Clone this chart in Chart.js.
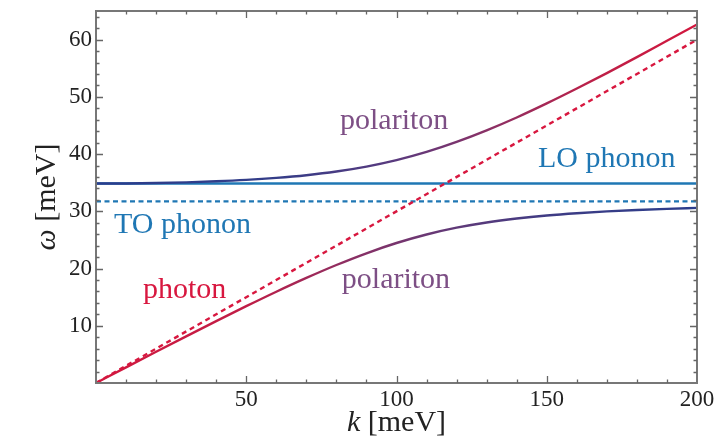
<!DOCTYPE html>
<html>
<head>
<meta charset="utf-8">
<script src="https://cdn.jsdelivr.net/npm/chart.js@4/dist/chart.umd.min.js"></script>
<style>
  html, body { margin: 0; padding: 0; background: #fff; }
  #wrap { width: 719px; height: 442px; position: relative; }
</style>
</head>
<body>
<div id="wrap"><canvas id="c" width="719" height="442"></canvas></div>
<script>
// ---- data ----
const kGrid = [0,10,20,30,40,50,60,70,80,90,100,110,120,130,140,150,160,170,180,190,200];
const upperPolariton = [34.85,34.87,34.94,35.06,35.24,35.49,35.84,36.31,36.95,37.81,38.94,40.37,42.12,44.14,46.39,48.85,51.45,54.15,56.95,59.8,62.65];
const lowerPolariton = [0,2.73,5.45,8.15,10.81,13.42,15.95,18.36,20.62,22.67,24.46,25.95,27.14,28.05,28.74,29.27,29.67,29.98,30.23,30.43,30.6];
const kEnds = [0,200];
const photonLine = [0,60];
const loPhonon = [34.85,34.85];
const toPhonon = [31.75,31.75];
const xTickLabels = [50,100,150,200];
const yTickLabels = [10,20,30,40,50,60];

const BLUE = '#1f77b4';
const RED = '#d8173f';
const PURPLE = '#7d4f85';
const SERIF = '"Liberation Serif", "DejaVu Serif", serif';

function pts(xs, ys){ return xs.map((x,i)=>({x:x, y:ys[i]})); }

function grad(chart, stops){
  const a = chart.chartArea;
  if (!a) return stops[0][1];
  const g = chart.ctx.createLinearGradient(a.left,0,a.right,0);
  stops.forEach(s=>g.addColorStop(s[0], s[1]));
  return g;
}
const upperStops = [[0,'#2a3d8c'],[0.3,'#343d88'],[0.5,'#5a3a7e'],[0.65,'#8a3166'],[0.82,'#bb2048'],[1,'#d3173e']];
const lowerStops = [[0,'#d3173e'],[0.25,'#c01d46'],[0.42,'#8c2f63'],[0.55,'#6a3874'],[0.75,'#3f3c84'],[1,'#2a3d8c']];

const labels = [
  {text:'polariton', x:81.2, y:44.3, color:PURPLE},
  {text:'LO phonon', x:147.1, y:37.75, color:BLUE},
  {text:'TO phonon', x:6.0, y:26.2, color:BLUE},
  {text:'photon', x:15.6, y:14.8, color:RED},
  {text:'polariton', x:81.8, y:16.6, color:PURPLE}
];

const framePlugin = {
  id:'frame',
  afterDatasetsDraw(chart){
    const {ctx, chartArea:a, scales:{x,y}} = chart;
    ctx.save();
    // annotations
    ctx.font = '30px ' + SERIF;
    ctx.textBaseline = 'alphabetic';
    ctx.textAlign = 'left';
    labels.forEach(l=>{
      ctx.fillStyle = l.color;
      ctx.fillText(l.text, x.getPixelForValue(l.x), y.getPixelForValue(l.y));
    });
    // frame
    ctx.strokeStyle = '#777';
    ctx.lineWidth = 2;
    ctx.strokeRect(a.left, a.top, a.right-a.left, a.bottom-a.top);
    // ticks inside
    ctx.strokeStyle = '#666';
    ctx.lineWidth = 1.3;
    ctx.beginPath();
    for (let v=10; v<200; v+=10){
      const px = Math.round(x.getPixelForValue(v))+0.5;
      const L = (v%50===0)?7:3.5;
      ctx.moveTo(px,a.bottom); ctx.lineTo(px,a.bottom-L);
      ctx.moveTo(px,a.top); ctx.lineTo(px,a.top+L);
    }
    for (let v=2; v<65; v+=2){
      const py = Math.round(y.getPixelForValue(v))+0.5;
      const L = (v%10===0)?7:3.5;
      ctx.moveTo(a.left,py); ctx.lineTo(a.left+L,py);
      ctx.moveTo(a.right,py); ctx.lineTo(a.right-L,py);
    }
    ctx.stroke();
    // axis titles
    ctx.fillStyle = '#222';
    ctx.textBaseline = 'alphabetic';
    const cx = (a.left+a.right)/2;
    ctx.font = 'italic 30px ' + SERIF;
    const kw = ctx.measureText('k').width;
    ctx.font = '30px ' + SERIF;
    const rw = ctx.measureText(' [meV]').width;
    let sx = cx - (kw+rw)/2;
    ctx.font = 'italic 30px ' + SERIF;
    ctx.textAlign = 'left';
    ctx.fillText('k', sx, 431);
    ctx.font = '30px ' + SERIF;
    ctx.fillText(' [meV]', sx+kw, 431);
    // y title
    ctx.translate(55, (a.top+a.bottom)/2);
    ctx.rotate(-Math.PI/2);
    ctx.font = 'italic 30px ' + SERIF;
    const ww = ctx.measureText('ω').width;
    ctx.font = '30px ' + SERIF;
    const mw = ctx.measureText(' [meV]').width;
    sx = -(ww+mw)/2;
    ctx.font = 'italic 30px ' + SERIF;
    ctx.fillText('ω', sx, 0);
    ctx.font = '30px ' + SERIF;
    ctx.fillText(' [meV]', sx+ww, 0);
    ctx.restore();
  }
};

new Chart(document.getElementById('c'), {
  type:'line',
  data:{
    datasets:[
      {label:'upper polariton', data:pts(kGrid, upperPolariton), borderColor:(c)=>grad(c.chart, upperStops), borderWidth:2.4, pointRadius:0, tension:0.4, cubicInterpolationMode:'monotone', order:1},
      {label:'lower polariton', data:pts(kGrid, lowerPolariton), borderColor:(c)=>grad(c.chart, lowerStops), borderWidth:2.4, pointRadius:0, tension:0.4, cubicInterpolationMode:'monotone', order:1},
      {label:'photon', data:pts(kEnds, photonLine), borderColor:RED, borderWidth:2.4, borderDash:[5,4], pointRadius:0, order:2},
      {label:'LO phonon', data:pts(kEnds, loPhonon), borderColor:BLUE, borderWidth:2.4, pointRadius:0, order:3},
      {label:'TO phonon', data:pts(kEnds, toPhonon), borderColor:BLUE, borderWidth:2.2, borderDash:[5,3.5], pointRadius:0, order:3}
    ]
  },
  options:{
    responsive:false,
    animation:false,
    parsing:true,
    layout:{padding:{top:11, right:22, left:0, bottom:0}},
    plugins:{legend:{display:false}, tooltip:{enabled:false}},
    scales:{
      x:{type:'linear', min:0, max:200,
        afterFit(s){ s.height = 59; s.paddingLeft = 0; s.paddingRight = 0; },
        grid:{display:false, drawTicks:false},
        border:{display:false},
        afterBuildTicks(s){ s.ticks = xTickLabels.map(v=>({value:v})); },
        ticks:{padding:3, color:'#222', font:{family:SERIF, size:23}, maxRotation:0, autoSkip:false}
      },
      y:{type:'linear', min:0, max:65,
        afterFit(s){ s.width = 96; s.paddingTop = 0; s.paddingBottom = 0; },
        grid:{display:false, drawTicks:false},
        border:{display:false},
        afterBuildTicks(s){ s.ticks = yTickLabels.map(v=>({value:v})); },
        ticks:{padding:4, color:'#222', font:{family:SERIF, size:23}, autoSkip:false}
      }
    }
  },
  plugins:[framePlugin]
});
</script>
</body>
</html>
